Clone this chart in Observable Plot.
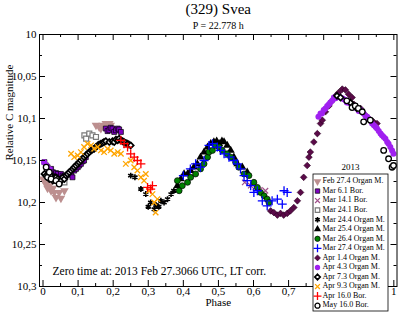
<!DOCTYPE html>
<html><head><meta charset="utf-8">
<script src="https://cdn.jsdelivr.net/npm/d3@7"></script>
<script src="https://cdn.jsdelivr.net/npm/@observablehq/plot@0.6"></script>
<style>
html,body{margin:0;padding:0;background:#fff;}
svg{font-family:"Liberation Serif","Times New Roman",serif;}
</style></head><body><div id="chart"></div>
<script>
const title = "(329) Svea";
const subtitle = "P = 22.778 h";
const xLabel = "Phase";
const yLabel = "Relative C magnitude";
const note = "Zero time at: 2013 Feb 27.3066 UTC, LT corr.";
const legendTitle = "2013";
const xTicks = [0,0.1,0.2,0.3,0.4,0.5,0.6,0.7,0.8,0.9,1];
const xTickLabels = [0,0.1,0.2,0.3,0.4,0.5,0.6,0.7,1]; // 0,8 and 0,9 are hidden behind the legend
const xMinor = [0.05,0.15,0.25,0.35,0.45,0.55,0.65,0.75,0.85,0.95];
const yTicks = [10,10.05,10.1,10.15,10.2,10.25,10.3];
const yMinor = [10.025,10.075,10.125,10.175,10.225,10.275];

const sessionNames = ["Feb 27.4 Organ M.","Mar 6.1 Bor.","Mar 14.1 Bor.","Mar 24.1 Bor.","Mar 24.4 Organ M.","Mar 25.4 Organ M.","Mar 26.4 Organ M.","Mar 27.4 Organ M.","Apr 1.4 Organ M.","Apr 4.3 Organ M.","Apr 7.3 Organ M.","Apr 9.3 Organ M.","Apr 16.0 Bor.","May 16.0 Bor."];

const feb27Phase = [0.000,0.004,0.008,0.013,0.018,0.023,0.028,0.032,0.037,0.046,0.051,0.061,0.151,0.160,0.165,0.170,0.179,0.184,0.189,0.193];
const feb27Mag = [10.172,10.174,10.178,10.183,10.180,10.186,10.183,10.188,10.194,10.188,10.195,10.186,10.108,10.110,10.112,10.108,10.106,10.112,10.106,10.108];
const mar06Phase = [0.004,0.009,0.013,0.018,0.023,0.028,0.032,0.037,0.042,0.046,0.051,0.056,0.061,0.065,0.070,0.075,0.080,0.084,0.089,0.094,0.099,0.103,0.108,0.113,0.117,0.122,0.179,0.184,0.189,0.193,0.198,0.203,0.208,0.213,0.217,0.222];
const mar06Mag = [10.152,10.156,10.158,10.162,10.160,10.164,10.167,10.165,10.166,10.170,10.166,10.168,10.171,10.168,10.167,10.166,10.165,10.170,10.162,10.160,10.158,10.156,10.154,10.151,10.150,10.146,10.112,10.115,10.114,10.111,10.112,10.116,10.114,10.112,10.113,10.116];
const mar14Phase = [0.575,0.592,0.605,0.618,0.634];
const mar14Mag = [10.176,10.180,10.182,10.185,10.186];
const mar241Phase = [0.056,0.061,0.118,0.123,0.132,0.141,0.151];
const mar241Mag = [10.174,10.176,10.120,10.124,10.118,10.120,10.122];
const mar244Phase = [0.250,0.262,0.279,0.293,0.300,0.307,0.317,0.322,0.330,0.336,0.345,0.355,0.365,0.373];
const mar244Mag = [10.168,10.170,10.184,10.190,10.205,10.200,10.208,10.203,10.205,10.198,10.200,10.196,10.190,10.186];
const mar25Phase = [0.383,0.393,0.402,0.412,0.421,0.430,0.440,0.449,0.459,0.469,0.478,0.487,0.495,0.502,0.510,0.516,0.525,0.535,0.544,0.554,0.568,0.582];
const mar25Mag = [10.180,10.172,10.166,10.166,10.162,10.158,10.154,10.146,10.140,10.134,10.130,10.128,10.127,10.130,10.127,10.128,10.132,10.138,10.146,10.154,10.158,10.164];
const mar26Phase = [0.383,0.388,0.397,0.412,0.421,0.435,0.449,0.459,0.469,0.473,0.483,0.492,0.502,0.511,0.525,0.535,0.549,0.558,0.573,0.587,0.601,0.611,0.620,0.630,0.639,0.644];
const mar26Mag = [10.174,10.186,10.180,10.176,10.170,10.166,10.160,10.154,10.146,10.140,10.138,10.132,10.134,10.138,10.142,10.146,10.152,10.158,10.166,10.168,10.176,10.182,10.188,10.192,10.196,10.200];
const mar27Phase = [0.400,0.420,0.435,0.449,0.459,0.473,0.483,0.497,0.506,0.516,0.530,0.544,0.554,0.563,0.573,0.582,0.592,0.601,0.611,0.625,0.639,0.653,0.668,0.682,0.687,0.696];
const mar27Mag = [10.168,10.160,10.154,10.158,10.150,10.132,10.130,10.134,10.138,10.142,10.146,10.150,10.154,10.160,10.168,10.174,10.180,10.188,10.186,10.198,10.204,10.198,10.196,10.202,10.186,10.188];
const apr01Phase = [0.649,0.658,0.668,0.677,0.686,0.696,0.705,0.715,0.725,0.734,0.743,0.753,0.758,0.762,0.772,0.782,0.791,0.796,0.805,0.815,0.824,0.834,0.843,0.853,0.862,0.871,0.881,0.886,0.895,0.905,0.914,0.924,0.933,0.942,0.952];
const apr01Mag = [10.210,10.212,10.215,10.213,10.215,10.213,10.210,10.206,10.198,10.188,10.170,10.156,10.146,10.140,10.128,10.118,10.106,10.102,10.092,10.085,10.079,10.073,10.069,10.065,10.066,10.071,10.075,10.083,10.087,10.088,10.094,10.098,10.102,10.104,10.106];
const apr04Phase = [0.003,0.010,0.018,0.785,0.791,0.795,0.800,0.805,0.810,0.815,0.819,0.824,0.829,0.834,0.838,0.843,0.848,0.853,0.857,0.862,0.866,0.871,0.876,0.881,0.890,0.895,0.900,0.905,0.914,0.919,0.924,0.929,0.938,0.943,0.948,0.952,0.957,0.962,0.966,0.971,0.976,0.981,0.985,0.990,0.995,0.999];
const apr04Mag = [10.152,10.156,10.160,10.098,10.094,10.094,10.090,10.088,10.085,10.083,10.081,10.079,10.075,10.076,10.073,10.074,10.075,10.076,10.077,10.078,10.081,10.081,10.082,10.084,10.087,10.088,10.091,10.090,10.094,10.097,10.098,10.101,10.106,10.108,10.110,10.112,10.115,10.118,10.120,10.122,10.124,10.128,10.130,10.134,10.138,10.142];
const apr07Phase = [0.004,0.009,0.013,0.018,0.023,0.028,0.032,0.037,0.042,0.047,0.051,0.056,0.061,0.066,0.070,0.075,0.080,0.085,0.089,0.094,0.099,0.103,0.108,0.113,0.117,0.122,0.127,0.132,0.137,0.141,0.146,0.151,0.156,0.160,0.165,0.170,0.174,0.179,0.189,0.198,0.203,0.208,0.213,0.217,0.222,0.227,0.231,0.236,0.241,0.245,0.250,0.838,0.848,0.876,0.895];
const apr07Mag = [10.166,10.168,10.170,10.172,10.168,10.174,10.170,10.170,10.172,10.176,10.174,10.170,10.172,10.168,10.166,10.164,10.162,10.160,10.158,10.156,10.154,10.152,10.150,10.148,10.146,10.144,10.142,10.140,10.138,10.137,10.136,10.134,10.132,10.131,10.130,10.129,10.128,10.127,10.128,10.127,10.128,10.125,10.126,10.124,10.126,10.127,10.128,10.129,10.130,10.131,10.132,10.073,10.075,10.081,10.088];
const apr09Phase = [0.080,0.089,0.099,0.108,0.117,0.127,0.137,0.146,0.156,0.165,0.174,0.184,0.193,0.203,0.213,0.222,0.236,0.250,0.260,0.269,0.279,0.288,0.293,0.302,0.312,0.317,0.321,0.326];
const apr09Mag = [10.142,10.146,10.144,10.140,10.134,10.130,10.132,10.136,10.134,10.138,10.140,10.136,10.138,10.142,10.140,10.142,10.154,10.150,10.158,10.162,10.170,10.174,10.166,10.186,10.190,10.200,10.212,10.196];
const apr16Phase = [0.222,0.231,0.241,0.250,0.260,0.269,0.279,0.298,0.307,0.312];
const apr16Mag = [10.126,10.130,10.134,10.142,10.146,10.150,10.154,10.182,10.184,10.180];
const may16Phase = [0.009,0.013,0.018,0.023,0.037,0.046,0.866,0.881,0.890,0.899,0.910,0.914,0.933,0.971,0.985,0.995,0.999];
const may16Mag = [10.158,10.170,10.164,10.172,10.174,10.178,10.079,10.087,10.085,10.088,10.092,10.104,10.102,10.138,10.148,10.158,10.156];

const phases = [feb27Phase,mar06Phase,mar14Phase,mar241Phase,mar244Phase,mar25Phase,mar26Phase,mar27Phase,apr01Phase,apr04Phase,apr07Phase,apr09Phase,apr16Phase,may16Phase];
const mags = [feb27Mag,mar06Mag,mar14Mag,mar241Mag,mar244Mag,mar25Mag,mar26Mag,mar27Mag,apr01Mag,apr04Mag,apr07Mag,apr09Mag,apr16Mag,may16Mag];

const triangleDown = {draw(ctx, size){const y = -Math.sqrt(size/(Math.sqrt(3)*3)); const s = Math.sqrt(3);
  ctx.moveTo(0, -y*2); ctx.lineTo(-s*y, y); ctx.lineTo(s*y, y); ctx.closePath();}};

const styles = [
  {symbol: triangleDown, fill:"#bc8f8f", stroke:"none", sw:0, r:3.2},
  {symbol: d3.symbolSquare, fill:"#7d00c0", stroke:"#000", sw:0.7, r:2.8},
  {symbol: d3.symbolTimes, fill:"none", stroke:"#a0508a", sw:1.2, r:2.6},
  {symbol: d3.symbolSquare, fill:"#fff", stroke:"#7a7a7a", sw:1.2, r:2.8},
  {symbol: d3.symbolAsterisk, fill:"none", stroke:"#000", sw:1.6, r:2.8},
  {symbol: d3.symbolTriangle, fill:"#000", stroke:"none", sw:0, r:3},
  {symbol: d3.symbolCircle, fill:"#008000", stroke:"#000", sw:0.7, r:3},
  {symbol: d3.symbolPlus, fill:"none", stroke:"#0000ff", sw:1.3, r:3},
  {symbol: d3.symbolDiamond2, fill:"#5a0a48", stroke:"#2a0022", sw:0.6, r:3},
  {symbol: d3.symbolCircle, fill:"#a020f0", stroke:"none", sw:0, r:3},
  {symbol: d3.symbolDiamond2, fill:"#fff", stroke:"#000", sw:1.7, r:2.7},
  {symbol: d3.symbolTimes, fill:"none", stroke:"#ffa500", sw:1.3, r:2.6},
  {symbol: d3.symbolPlus, fill:"none", stroke:"#ff0000", sw:1.3, r:3},
  {symbol: d3.symbolCircle, fill:"#fff", stroke:"#000", sw:1.3, r:2.8}
];

const nf = d3.formatLocale({decimal:",", thousands:".", grouping:[3], currency:["",""]}).format("~g");

const dotMarks = sessionNames.map((name, i) => {
  const rows = phases[i].map((p, j) => ({phase: p, mag: mags[i][j]}));
  const s = styles[i];
  return Plot.dot(rows, {x:"phase", y:"mag", symbol: s.symbol, r: s.r, fill: s.fill, stroke: s.stroke, strokeWidth: s.sw});
});

const FH = 252, FW = 357.5;
const chart = Plot.plot({
  width: 399, height: 314,
  marginTop: 34, marginBottom: 28, marginLeft: 39, marginRight: 2.5,
  style: {fontFamily: "Liberation Serif, Times New Roman, serif", background: "#fff"},
  x: {domain: [-0.01, 1.009], axis: null},
  y: {domain: [10, 10.3], reverse: true, axis: null},
  marks: [
    ...dotMarks,
    Plot.ruleX(xTicks, {insetTop: FH-6, stroke:"#000"}),
    Plot.ruleX(xTicks, {insetBottom: FH-6, stroke:"#000"}),
    Plot.ruleX(xMinor, {insetTop: FH-3, stroke:"#000"}),
    Plot.ruleX(xMinor, {insetBottom: FH-3, stroke:"#000"}),
    Plot.ruleY(yTicks, {insetRight: FW-6, stroke:"#000"}),
    Plot.ruleY(yTicks, {insetLeft: FW-6, stroke:"#000"}),
    Plot.ruleY(yMinor, {insetRight: FW-3, stroke:"#000"}),
    Plot.ruleY(yMinor, {insetLeft: FW-3, stroke:"#000"}),
    Plot.frame({stroke:"#000"}),
    Plot.text(xTickLabels, {x: d => d, text: d => nf(d), frameAnchor:"bottom", dy: 8, fontSize: 11, fill:"#000"}),
    Plot.text(yTicks, {y: d => d, text: d => nf(d), frameAnchor:"left", dx: -3, textAnchor:"end", fontSize: 11, fill:"#000"}),
    Plot.text([title], {frameAnchor:"top", dy: -31, fontSize: 15, fill:"#000"}),
    Plot.text([subtitle], {frameAnchor:"top", dy: -13, fontSize: 10, fill:"#000"}),
    Plot.text([xLabel], {frameAnchor:"bottom", dy: 19, fontSize: 11, fill:"#000"}),
    Plot.text([yLabel], {frameAnchor:"left", dx: -30, rotate: -90, fontSize: 11, fill:"#000"}),
    Plot.text([note], {frameAnchor:"bottom-left", dx: 13, dy: -12, textAnchor:"start", fontSize: 11.5, fill:"#000"})
  ]
});
document.getElementById("chart").appendChild(chart);

// legend
const svg = d3.select(chart);
const lg = svg.append("g").attr("text-anchor", "start");
const bx = 313, by = 174, bw = 75, bh = 137, rowH = 9.55;
lg.append("text").attr("x", bx + bw/2).attr("y", by - 6).attr("text-anchor","middle").attr("dominant-baseline","middle")
  .attr("font-size", 9).attr("fill","#000").text(legendTitle);
lg.append("rect").attr("x", bx).attr("y", by).attr("width", bw).attr("height", bh).attr("fill","#fff").attr("stroke","#000").attr("stroke-width",0.8);
sessionNames.forEach((name, i) => {
  const s = styles[i];
  const yy = by + 7.5 + i*rowH;
  lg.append("path").attr("transform", `translate(${bx+4.5},${yy})`)
    .attr("d", d3.symbol(s.symbol, Math.PI*s.r*s.r*0.8)())
    .attr("fill", s.fill).attr("stroke", s.stroke).attr("stroke-width", s.sw);
  lg.append("text").attr("x", bx + 9.5).attr("y", yy).attr("dominant-baseline","middle").attr("text-anchor","start")
    .attr("font-size", 8).attr("fill","#000").text(name);
});
</script></body></html>
